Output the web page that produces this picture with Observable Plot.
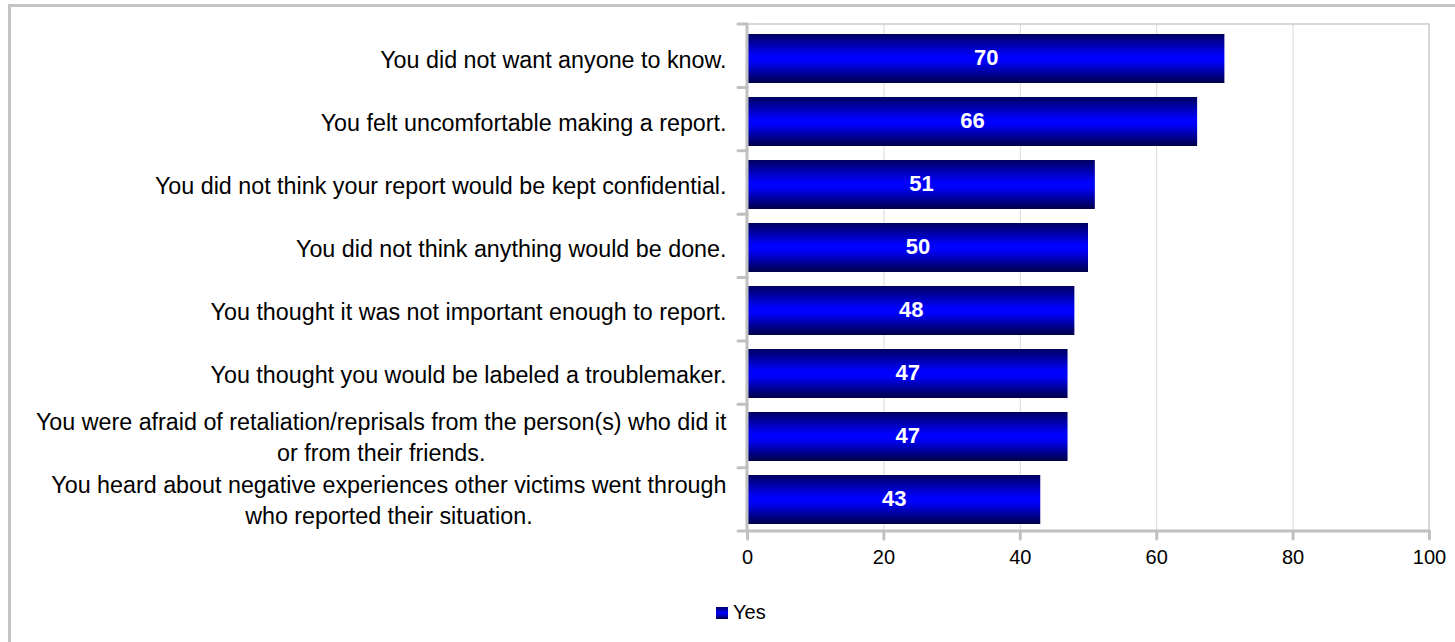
<!DOCTYPE html>
<html>
<head>
<meta charset="utf-8">
<script src="https://cdn.jsdelivr.net/npm/d3@7"></script>
<script src="https://cdn.jsdelivr.net/npm/@observablehq/plot@0.6"></script>
<style>
  html, body { margin: 0; padding: 0; background: #fff; overflow: hidden; width: 1455px; height: 642px; }
  #border { position: absolute; left: 8px; top: 4px; width: 2000px; height: 2000px;
            border-left: 3px solid #c4c4c4; border-top: 3px solid #c4c4c4; box-sizing: border-box; }
  #chart { position: absolute; left: 0; top: 0; }
  #legend { position: absolute; left: 716px; top: 601px; font: 20px "Liberation Sans", Arial, sans-serif;
            display: flex; align-items: center; color: #000; }
  #legend .sw { width: 12px; height: 12px; margin-right: 5px;
                background: linear-gradient(#000066, #0000ff 50%, #00004d); }
</style>
</head>
<body>
<div id="border"></div>
<div id="chart"></div>
<div id="legend"><span class="sw"></span><span id="legendLabel"></span></div>
<script>
const categories = [
  "You did not want anyone to know.",
  "You felt uncomfortable making a report.",
  "You did not think your report would be kept confidential.",
  "You did not think anything would be done.",
  "You thought it was not important enough to report.",
  "You thought you would be labeled a troublemaker.",
  "You were afraid of retaliation/reprisals from the person(s) who did it\nor from their friends.",
  "You heard about negative experiences other victims went through\nwho reported their situation."
];
const yesValues = [70, 66, 51, 50, 48, 47, 47, 43];
const xTicks = [0, 20, 40, 60, 80, 100];
const seriesName = "Yes";

document.getElementById("legendLabel").textContent = seriesName;

const data = categories.map((c, i) => ({category: c, value: yesValues[i]}));
const FONT = '"Liberation Sans", Arial, sans-serif';
const AXIS = "#c0c0c0";

function decor(index, scales, values, dim) {
  const g = d3.create("svg:g");
  const x0 = dim.marginLeft, x1 = dim.width - dim.marginRight;
  const y0 = dim.marginTop, y1 = dim.height - dim.marginBottom;
  const n = categories.length, step = (y1 - y0) / n;
  g.append("path").attr("d", `M${x0},${y0}H${x1}V${y1}`)
    .attr("fill", "none").attr("stroke", "#cccccc").attr("stroke-width", 1.5);
  for (let i = 0; i <= n; i++) {
    g.append("line").attr("x1", x0 - 9).attr("x2", x0).attr("y1", y0 + i * step).attr("y2", y0 + i * step)
      .attr("stroke", AXIS).attr("stroke-width", 3).attr("stroke-linecap", "round");
  }
  g.append("line").attr("x1", x0).attr("x2", x0).attr("y1", y0).attr("y2", y1)
    .attr("stroke", AXIS).attr("stroke-width", 3).attr("stroke-linecap", "round");
  g.append("line").attr("x1", x0).attr("x2", x1).attr("y1", y1).attr("y2", y1)
    .attr("stroke", AXIS).attr("stroke-width", 3).attr("stroke-linecap", "round");
  return g.node();
}

const plot = Plot.plot({
  width: 1455,
  height: 580,
  marginLeft: 747,
  marginRight: 26,
  marginTop: 24,
  marginBottom: 49,
  style: {fontFamily: FONT, color: "#000", background: "transparent", overflow: "visible"},
  x: {domain: [0, 100], axis: null},
  y: {domain: categories, padding: 0, axis: null},
  marks: [
    Plot.gridX(xTicks.filter(t => t > 0 && t < 100), {stroke: "#d9d9d9", strokeOpacity: 1, strokeWidth: 1}),
    Plot.barX(data, {x: "value", y: "category", fill: "url(#barGrad)", insetTop: 8, insetBottom: 6}),
    Plot.text(data, {x: d => d.value / 2, y: "category", text: d => String(d.value), fill: "white",
      fontWeight: "bold", fontSize: 22, dy: 0}),
    Plot.axisX({ticks: xTicks, tickSize: 8, tickPadding: 10, stroke: AXIS, strokeWidth: 3,
      strokeLinecap: "round", fontSize: 20, fill: "#000", tickFormat: d => String(d), label: null}),
    Plot.text(categories, {x: () => 0, y: d => d, text: d => d, dx: -21, textAnchor: "end",
      fontSize: 23.3, lineHeight: 1.33, fill: "#000"}),
    decor
  ]
});

document.getElementById("chart").append(plot);

const svg = d3.select(plot);
const defs = svg.insert("defs", ":first-child");
const grad = defs.append("linearGradient").attr("id", "barGrad")
  .attr("x1", 0).attr("y1", 0).attr("x2", 0).attr("y2", 1);
grad.append("stop").attr("offset", "0%").attr("stop-color", "#000060");
grad.append("stop").attr("offset", "45%").attr("stop-color", "#0000ff");
grad.append("stop").attr("offset", "55%").attr("stop-color", "#0000ff");
grad.append("stop").attr("offset", "100%").attr("stop-color", "#000048");

// center multi-line category labels within their right-aligned block
svg.selectAll("text").each(function() {
  const tspans = d3.select(this).selectAll("tspan");
  if (tspans.size() > 1) {
    let w = 0;
    tspans.each(function() { w = Math.max(w, this.getComputedTextLength()); });
    d3.select(this).attr("text-anchor", "middle");
    tspans.attr("x", -w / 2);
  }
});
</script>
</body>
</html>
